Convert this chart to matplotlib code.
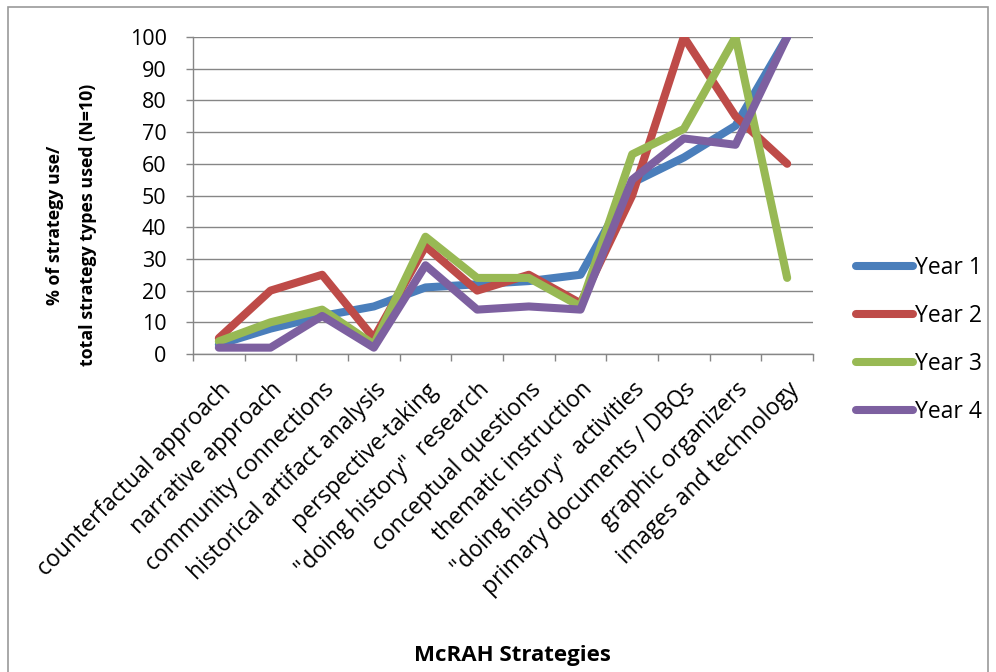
import matplotlib
matplotlib.use("Agg")
import matplotlib.pyplot as plt
from matplotlib.patches import Rectangle
import numpy as np

categories = [
    "counterfactual approach",
    "narrative approach",
    "community connections",
    "historical artifact analysis",
    "perspective-taking",
    '"doing history"  research',
    "conceptual questions",
    "thematic instruction",
    '"doing history"  activities',
    "primary documents / DBQs",
    "graphic organizers",
    "images and technology",
]
year1 = [3, 8, 12, 15, 21, 22, 23, 25, 54, 62, 72, 100]
year2 = [5, 20, 25, 5, 34, 20, 25, 16, 50, 100, 75, 60]
year3 = [4, 10, 14, 3, 37, 24, 24, 15, 63, 71, 100, 24]
year4 = [2, 2, 12, 2, 28, 14, 15, 14, 55, 68, 66, 100]
series_names = ["Year 1", "Year 2", "Year 3", "Year 4"]
colors = ["#4A7EBB", "#BE4B48", "#98B954", "#7D60A0"]

plt.rcParams["font.family"] = ["Open Sans", "DejaVu Sans"]

fig = plt.figure(figsize=(9.96, 6.72), dpi=100)
ax = fig.add_axes([193 / 996, 1 - 354 / 672, 620 / 996, 317 / 672])

x = np.arange(len(categories))
for vals, name, c in zip([year1, year2, year3, year4], series_names, colors):
    ax.plot(x, vals, color=c, lw=5.8, label=name, solid_capstyle="round",
            solid_joinstyle="round", zorder=3)

ax.set_xlim(-0.5, len(categories) - 0.5)
ax.set_ylim(0, 100)
ax.set_yticks(np.arange(0, 101, 10))
ax.tick_params(axis="y", labelsize=15.5, length=5, color="#868686", width=1,
               direction="out", pad=14)
ax.yaxis.grid(True, color="#868686", lw=1)
ax.set_axisbelow(True)

# category labels sit between boundary ticks
ax.set_xticks(x)
ax.set_xticklabels(categories, rotation=45, ha="right", rotation_mode="anchor",
                   fontsize=16.5)
ax.tick_params(axis="x", length=0, pad=17)
ax.set_xticks(np.arange(-0.5, len(categories), 1), minor=True)
ax.tick_params(axis="x", which="minor", length=5, color="#868686", width=1)

for side in ["top", "right"]:
    ax.spines[side].set_visible(False)
for side in ["left", "bottom"]:
    ax.spines[side].set_color("#868686")
    ax.spines[side].set_linewidth(1)

ax.set_ylabel("% of strategy use/\ntotal strategy types used (N=10)",
              fontsize=12.8, fontweight="bold", linespacing=2.05)
ax.yaxis.set_label_coords(-0.155, 0.407)
fig.text(512 / 996, 1 - 655 / 672, "McRAH Strategies", fontsize=16,
         fontweight="bold", ha="center", va="center")

leg = fig.legend(loc="center left", bbox_to_anchor=(835 / 996, 1 - 340 / 672),
                 frameon=False, fontsize=16.5, handlelength=2.5,
                 handletextpad=0.1, labelspacing=1.05)

fig.patches.append(Rectangle((8 / 996, -0.05), 980 / 996, 1.05 - 7 / 672,
                             transform=fig.transFigure, fill=False,
                             edgecolor="#9a9a9a", lw=1.2, clip_on=False))

fig.savefig("out.png", dpi=100)
